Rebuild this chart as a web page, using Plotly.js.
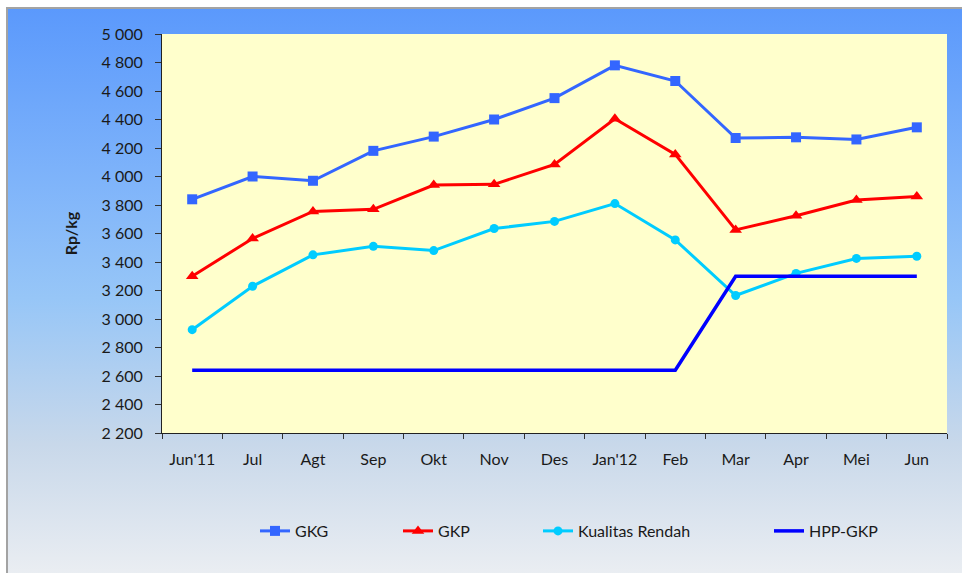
<!DOCTYPE html>
<html>
<head>
<meta charset="utf-8">
<script src="https://cdn.plot.ly/plotly-3.0.1.min.js"></script>
<style>
  html, body { margin: 0; padding: 0; background: #ffffff; width: 962px; height: 573px; overflow: hidden; }
  #bg { position: absolute; left: 6px; top: 7px; width: 970px; height: 580px;
        border-top: 2px solid #a3a3a3; border-left: 2px solid #a3a3a3;
        background: linear-gradient(to bottom, #5b99fc 0%, #7fb4fa 30%, #97c6f7 50%, #c8d8ea 75%, #eef0f3 100%); }
  #chart { position: absolute; left: 0; top: 0; width: 962px; height: 573px; }
</style>
</head>
<body>
<div id="bg"></div>
<div id="chart"></div>
<script>
const months = ["Jun'11", "Jul", "Agt", "Sep", "Okt", "Nov", "Des", "Jan'12", "Feb", "Mar", "Apr", "Mei", "Jun"];
const gkg = [3840, 4000, 3970, 4180, 4280, 4400, 4550, 4780, 4670, 4270, 4275, 4260, 4345];
const gkp = [3300, 3565, 3755, 3770, 3940, 3945, 4085, 4405, 4155, 3625, 3725, 3835, 3860];
const kualitasRendah = [2925, 3230, 3450, 3510, 3480, 3635, 3685, 3810, 3555, 3165, 3320, 3425, 3440];
const hppGkp = [2640, 2640, 2640, 2640, 2640, 2640, 2640, 2640, 2640, 3300, 3300, 3300, 3300];
const yTicks = [2200, 2400, 2600, 2800, 3000, 3200, 3400, 3600, 3800, 4000, 4200, 4400, 4600, 4800, 5000];

const font = "Lato, 'Open Sans', sans-serif";
const textColor = "#1a1a1a";

const traces = [
  { x: months, y: gkg, name: "GKG", type: "scatter", mode: "lines+markers",
    line: { color: "#3366ff", width: 3 }, marker: { symbol: "square", size: 10, color: "#3366ff" }, legend: "legend" },
  { x: months, y: gkp, name: "GKP", type: "scatter", mode: "lines+markers",
    line: { color: "#ff0000", width: 3 }, marker: { symbol: "triangle-up", size: 11, color: "#ff0000" }, legend: "legend2" },
  { x: months, y: kualitasRendah, name: "Kualitas Rendah", type: "scatter", mode: "lines+markers",
    line: { color: "#00ccff", width: 3 }, marker: { symbol: "circle", size: 9, color: "#00ccff" }, legend: "legend3" },
  { x: months, y: hppGkp, name: "HPP-GKP", type: "scatter", mode: "lines",
    line: { color: "#0000ff", width: 3.5 }, legend: "legend4" }
];

function lg(textStart) {
  return { x: (textStart - 40 - 162) / 785, xanchor: "left", y: -0.2456, yanchor: "middle",
           orientation: "h", bgcolor: "rgba(0,0,0,0)", borderwidth: 0,
           font: { family: font, size: 16, color: textColor } };
}

const layout = {
  width: 962, height: 573,
  margin: { l: 162, r: 15, t: 34, b: 140, pad: 0 },
  paper_bgcolor: "rgba(0,0,0,0)",
  plot_bgcolor: "#ffffcc",
  separators: ", ",
  showlegend: true,
  legend: lg(295), legend2: lg(438), legend3: lg(578), legend4: lg(809),
  xaxis: {
    type: "category", range: [-0.5, 12.5], tickson: "boundaries",
    ticks: "outside", ticklen: 5, tickcolor: "#333", tickwidth: 1,
    showline: true, linecolor: "#222", linewidth: 1, showgrid: false, zeroline: false,
    tickfont: { family: font, size: 16, color: textColor }, ticklabelstandoff: 12
  },
  yaxis: {
    range: [2200, 5000], tickvals: yTicks, tickformat: ",d",
    ticks: "outside", ticklen: 6, tickcolor: "#333", tickwidth: 1,
    showline: true, linecolor: "#222", linewidth: 1, showgrid: false, zeroline: false,
    tickfont: { family: font, size: 16, color: textColor }, ticklabelstandoff: 9,
    title: { text: "<b>Rp/kg</b>", font: { family: font, size: 16, color: textColor }, standoff: 19 }
  }
};

Plotly.newPlot("chart", traces, layout, { displayModeBar: false, staticPlot: true });
</script>
</body>
</html>
